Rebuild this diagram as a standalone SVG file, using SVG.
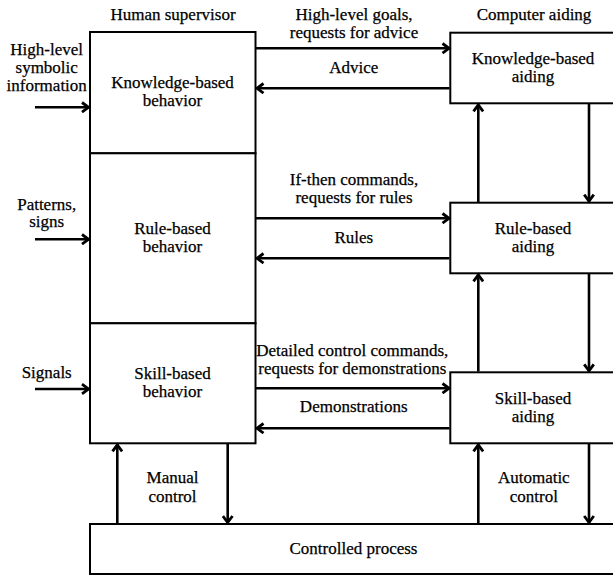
<svg xmlns="http://www.w3.org/2000/svg" width="613" height="576" viewBox="0 0 613 576">
<style>
.box{fill:#fff;stroke:#000;stroke-width:2}
.ln{fill:none;stroke:#000;stroke-width:2.6}
text{font-family:"Liberation Serif","Times New Roman",serif;font-size:17px;fill:#000;stroke:#000;stroke-width:0.25;text-anchor:middle}
</style>
<defs>
<marker id="ah" viewBox="0 0 12 12" refX="10" refY="6" markerWidth="12" markerHeight="12" markerUnits="userSpaceOnUse" orient="auto">
<path d="M3,1.2 L9.5,6 L3,10.8" fill="none" stroke="#000" stroke-width="2.8" stroke-linejoin="miter"/>
</marker>
</defs>
<rect width="613" height="576" fill="#fff"/>
<text x="173" y="20">Human supervisor</text>
<text x="534" y="20">Computer aiding</text>
<g id="kb-behavior">
<rect class="box" x="90" y="32" width="165.5" height="121.3"/>
<text x="172.5" y="88">Knowledge-based</text>
<text x="172.5" y="106">behavior</text>
</g>
<g id="rb-behavior">
<rect class="box" x="90" y="153.3" width="165.5" height="170"/>
<text x="172.5" y="234">Rule-based</text>
<text x="172.5" y="252">behavior</text>
</g>
<g id="sb-behavior">
<rect class="box" x="90" y="323.3" width="165.5" height="120"/>
<text x="172.5" y="378.5">Skill-based</text>
<text x="172.5" y="396.5">behavior</text>
</g>
<g id="kb-aiding">
<rect class="box" x="450.3" y="32.7" width="175" height="70.6"/>
<text x="533" y="63.5">Knowledge-based</text>
<text x="533" y="81.5">aiding</text>
</g>
<g id="rb-aiding">
<rect class="box" x="450.3" y="202.7" width="175" height="70.6"/>
<text x="533" y="233.5">Rule-based</text>
<text x="533" y="251.5">aiding</text>
</g>
<g id="sb-aiding">
<rect class="box" x="450.3" y="372.3" width="175" height="71"/>
<text x="533" y="403.5">Skill-based</text>
<text x="533" y="421.5">aiding</text>
</g>
<g id="controlled-process">
<rect class="box" x="90" y="524" width="535" height="50"/>
<text x="353.5" y="553.5">Controlled process</text>
</g>
<g id="connectors">
<line class="ln" x1="35" y1="107.3" x2="89" y2="107.3" marker-end="url(#ah)"/>
<line class="ln" x1="35" y1="239.3" x2="89" y2="239.3" marker-end="url(#ah)"/>
<line class="ln" x1="35" y1="389" x2="89" y2="389" marker-end="url(#ah)"/>
<line class="ln" x1="256" y1="48.3" x2="449.5" y2="48.3" marker-end="url(#ah)"/>
<line class="ln" x1="449.5" y1="88.3" x2="256.5" y2="88.3" marker-end="url(#ah)"/>
<line class="ln" x1="256" y1="218.3" x2="449.5" y2="218.3" marker-end="url(#ah)"/>
<line class="ln" x1="449.5" y1="258.3" x2="256.5" y2="258.3" marker-end="url(#ah)"/>
<line class="ln" x1="256" y1="388.3" x2="449.5" y2="388.3" marker-end="url(#ah)"/>
<line class="ln" x1="449.5" y1="428.3" x2="256.5" y2="428.3" marker-end="url(#ah)"/>
<line class="ln" x1="478.3" y1="202" x2="478.3" y2="104.3" marker-end="url(#ah)"/>
<line class="ln" x1="589" y1="104" x2="589" y2="201.7" marker-end="url(#ah)"/>
<line class="ln" x1="478.3" y1="371.5" x2="478.3" y2="274.3" marker-end="url(#ah)"/>
<line class="ln" x1="589" y1="274" x2="589" y2="371.3" marker-end="url(#ah)"/>
<line class="ln" x1="478.3" y1="523.3" x2="478.3" y2="444.3" marker-end="url(#ah)"/>
<line class="ln" x1="589" y1="444" x2="589" y2="523" marker-end="url(#ah)"/>
<line class="ln" x1="117.3" y1="523.3" x2="117.3" y2="444.3" marker-end="url(#ah)"/>
<line class="ln" x1="227.7" y1="444" x2="227.7" y2="523" marker-end="url(#ah)"/>
</g>
<g id="labels">
<text x="46.7" y="55">High-level</text>
<text x="46.7" y="73">symbolic</text>
<text x="46.7" y="91">information</text>
<text x="46.7" y="209.5">Patterns,</text>
<text x="46.7" y="227">signs</text>
<text x="46.7" y="377.5">Signals</text>
<text x="354" y="19.7">High-level goals,</text>
<text x="354" y="37.7">requests for advice</text>
<text x="353.7" y="72.7">Advice</text>
<text x="354" y="185">If-then commands,</text>
<text x="354" y="203">requests for rules</text>
<text x="353.8" y="243.3">Rules</text>
<text x="352.3" y="356">Detailed control commands,</text>
<text x="352.3" y="374">requests for demonstrations</text>
<text x="353.7" y="412.3">Demonstrations</text>
<text x="172.5" y="482.7">Manual</text>
<text x="172.5" y="501.7">control</text>
<text x="533.8" y="482.7">Automatic</text>
<text x="533.8" y="501.7">control</text>
</g>
</svg>
